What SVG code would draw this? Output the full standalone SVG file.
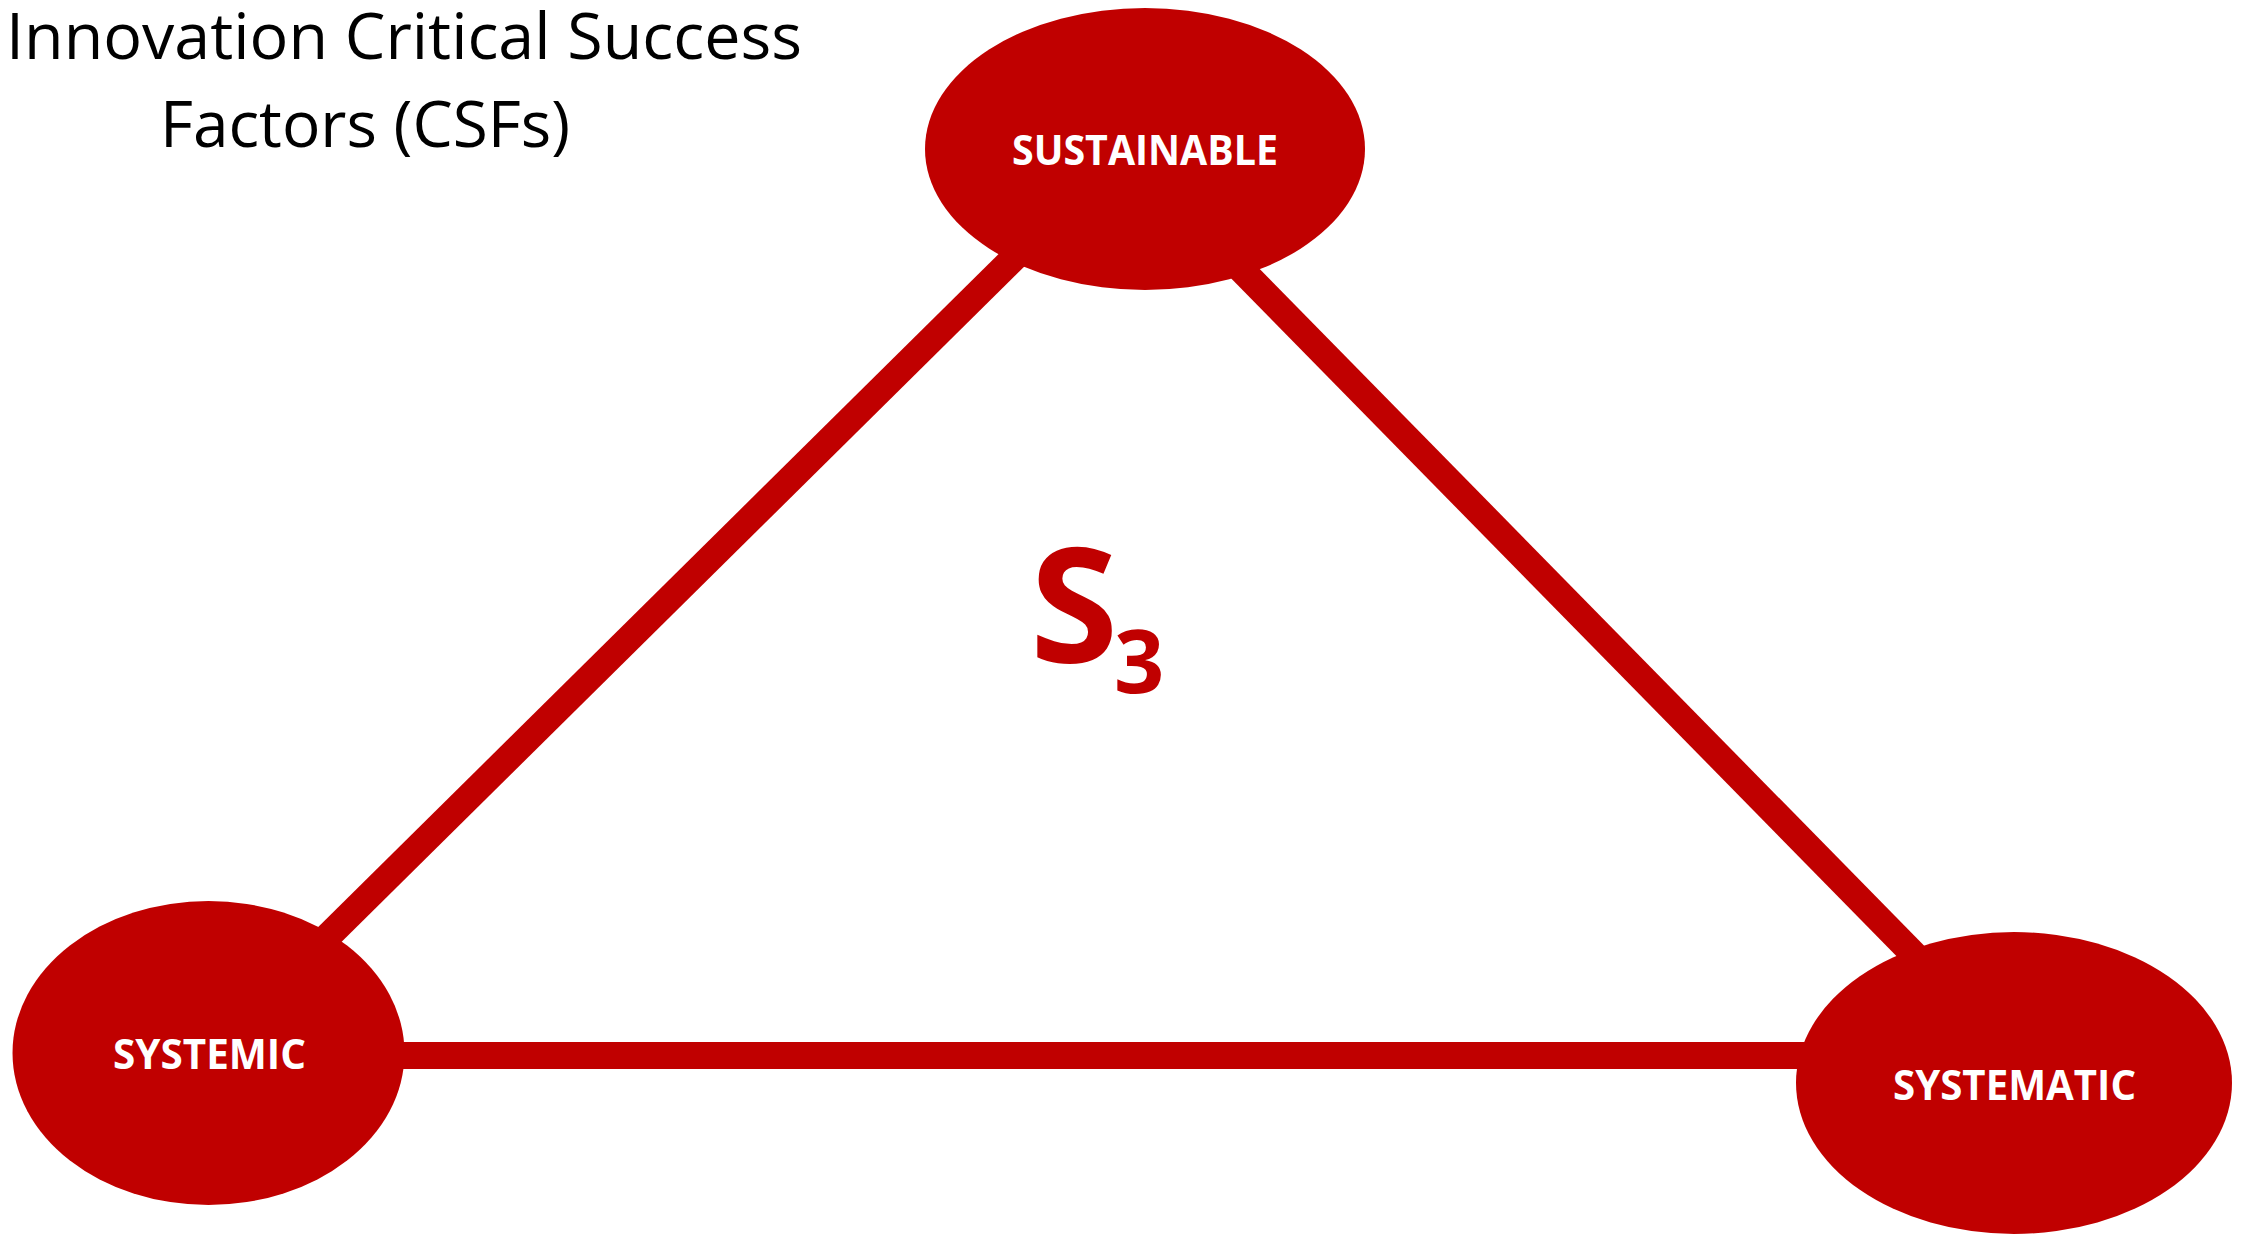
<svg xmlns="http://www.w3.org/2000/svg" width="2250" height="1234" viewBox="0 0 2250 1234">
<style>
.node{fill:#C00000;}
.lbl{font-family:"Open Sans","Liberation Sans",sans-serif;font-weight:bold;font-size:42px;fill:#FFFFFF;}
.title{font-family:"Open Sans","Liberation Sans",sans-serif;font-size:64px;fill:#000000;}
.conn{stroke:#C00000;stroke-width:27;fill:none;}
.s3{font-family:"Open Sans","Liberation Sans",sans-serif;font-weight:bold;fill:#C00000;}
</style>
<rect width="2250" height="1234" fill="#FFFFFF"/>
<g id="title">
<text class="title" x="6" y="59" textLength="796" lengthAdjust="spacingAndGlyphs">Innovation Critical Success</text>
<text class="title" x="160" y="147" textLength="410" lengthAdjust="spacingAndGlyphs">Factors (CSFs)</text>
</g>
<g id="connectors">
<line class="conn" x1="210" y1="1053" x2="1124" y2="149"/>
<line class="conn" x1="1123" y1="149" x2="2040" y2="1083"/>
<line class="conn" x1="208" y1="1055.5" x2="2014" y2="1055.5"/>
</g>
<g id="sustainable">
<ellipse class="node" cx="1145" cy="149" rx="220" ry="141"/>
<text class="lbl" x="1012" y="165" textLength="266" lengthAdjust="spacingAndGlyphs">SUSTAINABLE</text>
</g>
<g id="systemic">
<ellipse class="node" cx="208.5" cy="1053" rx="196" ry="152"/>
<text class="lbl" x="113" y="1069" textLength="193" lengthAdjust="spacingAndGlyphs">SYSTEMIC</text>
</g>
<g id="systematic">
<ellipse class="node" cx="2014" cy="1083" rx="218" ry="151"/>
<text class="lbl" x="1893" y="1100" textLength="243" lengthAdjust="spacingAndGlyphs">SYSTEMATIC</text>
</g>
<g id="s3-label">
<text class="s3" x="1030" y="662" font-size="160">S</text>
<text class="s3" x="1114" y="693" font-size="88">3</text>
</g>
</svg>
